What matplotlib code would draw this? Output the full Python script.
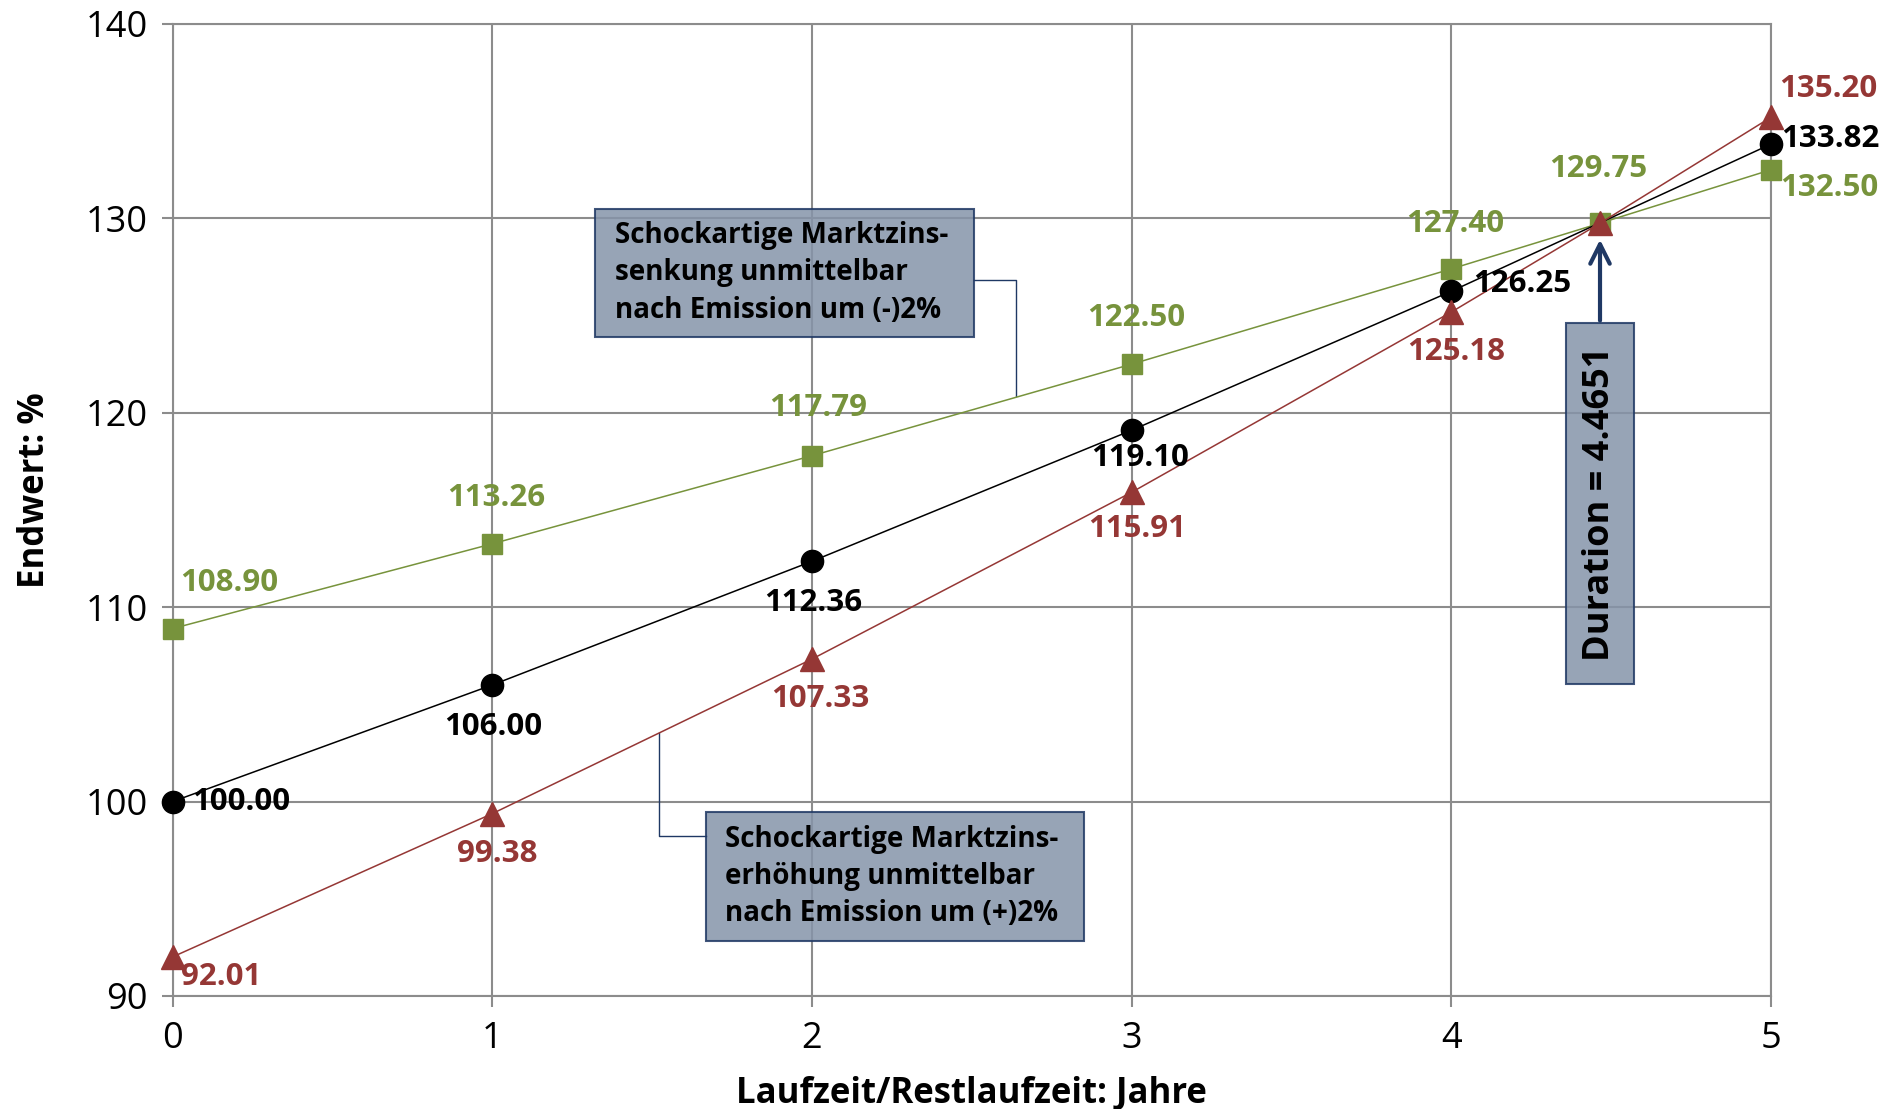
import matplotlib
matplotlib.use("Agg")
import matplotlib.pyplot as plt
from matplotlib.patches import Rectangle

plt.rcParams['font.family'] = ['Open Sans', 'DejaVu Sans']

# ---- data -------------------------------------------------------------
jahre = [0, 1, 2, 3, 4, 5]
duration = 4.4651
endwert_duration = 129.75

endwert_basis = [100.00, 106.00, 112.36, 119.10, 126.25, 133.82]
endwert_senkung = [108.90, 113.26, 117.79, 122.50, 127.40, 132.50]
endwert_erhoehung = [92.01, 99.38, 107.33, 115.91, 125.18, 135.20]

x_ticks = [0, 1, 2, 3, 4, 5]
y_ticks = [90, 100, 110, 120, 130, 140]

text_senkung = "Schockartige Marktzins-\nsenkung unmittelbar\nnach Emission um (-)2%"
text_erhoehung = "Schockartige Marktzins-\nerhöhung unmittelbar\nnach Emission um (+)2%"
text_duration = f"Duration = {duration}"

# ---- styling ----------------------------------------------------------
GREEN = '#77933C'
RED = '#953735'
BLACK = '#000000'
GRID = '#8C8C8C'
NAVY = '#1F3864'
BOX = '#8594A9'

fig = plt.figure(figsize=(18.99, 11.09), dpi=100)
ax = fig.add_axes([0.0909, 0.1019, 0.8417, 0.8765])

ax.set_xlim(0, 5)
ax.set_ylim(90, 140)
ax.set_xticks(x_ticks)
ax.set_yticks(y_ticks)
ax.grid(True, color=GRID, linewidth=1.5, zorder=1)
ax.set_axisbelow(True)
for sp in ax.spines.values():
    sp.set_color(GRID)
    sp.set_linewidth(1.5)
ax.tick_params(axis='both', colors=GRID, length=8, width=1.5,
               labelsize=26, labelcolor='#000000', pad=10)
ax.set_xlabel("Laufzeit/Restlaufzeit: Jahre", fontsize=25, fontweight='bold',
              labelpad=14)
ax.set_ylabel("Endwert: %", fontsize=25, fontweight='bold')
ax.yaxis.set_label_coords(-0.075, 0.52)


def with_duration(values):
    xs = list(jahre[:5]) + [duration] + [jahre[5]]
    ys = list(values[:5]) + [endwert_duration] + [values[5]]
    return xs, ys


# lines and markers
xs_g, ys_g = with_duration(endwert_senkung)
ax.plot(xs_g, ys_g, color=GREEN, lw=1.1, marker='s', ms=15,
        mec=GREEN, mfc=GREEN, zorder=4, clip_on=False)
ax.plot(jahre, endwert_basis, color=BLACK, lw=1.1, marker='o', ms=16,
        zorder=5, clip_on=False)
xs_r, ys_r = with_duration(endwert_erhoehung)
ax.plot(xs_r, ys_r, color=RED, lw=1.1, marker='^', ms=17,
        mec=RED, mfc=RED, zorder=6, clip_on=False)

# value labels: (dx, dy) in pixels, dy measured downwards on screen
off_g = [(57, -46, 'center'), (4, -46, 'center'), (6, -48, 'center'),
         (5, -46, 'center'), (4, -45, 'center'), (58, 18, 'center')]
off_b = [(20, 0, 'left'), (1, 42, 'center'), (1, 42, 'center'),
         (8, 28, 'center'), (22, -7, 'left'), (10, -5, 'left')]
off_r = [(8, 20, 'left'), (5, 40, 'center'), (8, 40, 'center'),
         (5, 37, 'center'), (5, 40, 'center'), (57, -28, 'center')]


def label_series(xv, yv, offsets, color):
    for x, y, (dx, dy, ha) in zip(xv, yv, offsets):
        ax.annotate(f"{y:.2f}", xy=(x, y), xytext=(dx, -dy),
                    textcoords='offset pixels', ha=ha, va='center',
                    fontsize=22.5, fontweight='bold', color=color,
                    zorder=8, annotation_clip=False)


label_series(jahre, endwert_senkung, off_g, GREEN)
label_series(jahre, endwert_basis, off_b, BLACK)
label_series(jahre, endwert_erhoehung, off_r, RED)
ax.annotate(f"{endwert_duration:.2f}", xy=(duration, endwert_duration),
            xytext=(-2, 54), textcoords='offset pixels', ha='center',
            va='center', fontsize=22.5, fontweight='bold', color=GREEN,
            zorder=8)


# callout boxes
def callout(x0, y0, x1, y1, text):
    ax.add_patch(Rectangle((x0, y0), x1 - x0, y1 - y0, facecolor=BOX,
                           edgecolor=NAVY, linewidth=1.5, alpha=0.85, zorder=3))
    ax.text(x0 + 0.062, (y0 + y1) / 2, text, ha='left', va='center',
            fontsize=20, fontweight='bold', color='#000000',
            linespacing=1.37, zorder=7)


callout(1.321, 123.90, 2.506, 130.48, text_senkung)
ax.plot([2.506, 2.638, 2.638], [126.81, 126.81, 120.85], color=NAVY,
        lw=1.0, zorder=3)

callout(1.667, 92.84, 2.850, 99.45, text_erhoehung)
ax.plot([1.667, 1.521, 1.521], [98.23, 98.23, 103.52], color=NAVY,
        lw=1.0, zorder=3)

ax.add_patch(Rectangle((4.358, 106.03), 0.213, 18.57, facecolor=BOX,
                       edgecolor=NAVY, linewidth=1.5, alpha=0.85, zorder=3))
ax.text((4.358 + 4.571) / 2, (106.03 + 124.60) / 2, text_duration,
        rotation=90, ha='center', va='center', fontsize=26,
        fontweight='bold', color='#000000', zorder=7)
ax.annotate('', xy=(duration, 129.05), xytext=(duration, 124.60),
            arrowprops=dict(arrowstyle='->', color=NAVY, lw=3,
                            mutation_scale=35), zorder=7)

fig.savefig("out.png", dpi=100)
